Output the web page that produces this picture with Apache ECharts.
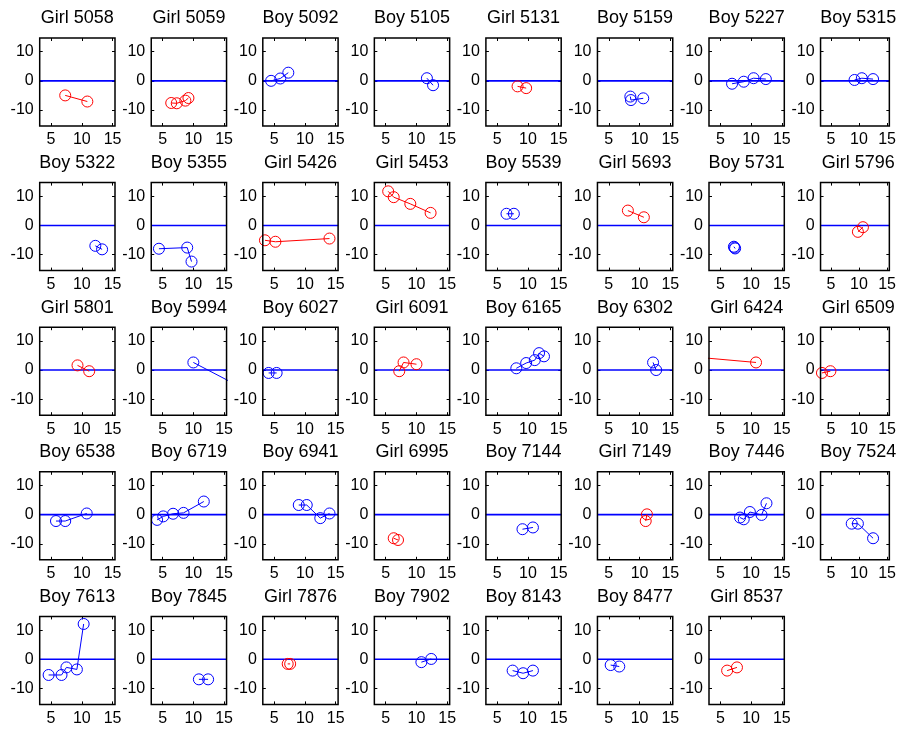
<!DOCTYPE html>
<html>
<head>
<meta charset="utf-8">
<script src="https://cdn.jsdelivr.net/npm/echarts@6/dist/echarts.min.js"></script>
<style>html,body{margin:0;padding:0;background:#fff}#c{width:899px;height:729px}</style>
</head>
<body>
<div id="c"></div>
<script>
// ---- data ----
const panelTitles = [
  'Girl 5058','Girl 5059','Boy 5092','Boy 5105','Girl 5131','Boy 5159','Boy 5227','Boy 5315',
  'Boy 5322','Boy 5355','Girl 5426','Girl 5453','Boy 5539','Girl 5693','Boy 5731','Girl 5796',
  'Girl 5801','Boy 5994','Boy 6027','Girl 6091','Boy 6165','Boy 6302','Girl 6424','Girl 6509',
  'Boy 6538','Boy 6719','Boy 6941','Girl 6995','Boy 7144','Girl 7149','Boy 7446','Boy 7524',
  'Boy 7613','Boy 7845','Girl 7876','Boy 7902','Boy 8143','Boy 8477','Girl 8537'
];
const ages = [
  [7.3,10.9],[6.4,7.3,8.7,9.2],[4.5,6.0,7.3],[11.7,12.7],[8.3,9.7],[8.5,8.6,10.6],[6.9,8.8,10.4,12.4],[9.2,10.5,12.5],
  [12.2,13.3],[4.4,9.0,9.7],[3.5,5.2,14.0],[5.4,6.3,9.0,12.3],[6.5,7.7],[8.1,10.7],[7.2,7.4,7.3],[9.8,10.7],
  [9.3,11.2],[10.0,17.0],[4.1,5.4],[7.2,7.9,10.0],[8.1,9.7,11.1,11.8,12.6],[12.2,12.7],[2.0,10.8],[3.4,4.9],
  [5.8,7.3,10.8],[4.1,5.1,6.7,8.4,11.7],[9.0,10.3,12.5,14.0],[6.3,7.0],[9.1,10.8],[11.2,11.0],[8.2,8.8,9.8,11.7,12.5],[8.7,9.8,12.5],
  [4.6,6.7,7.5,9.2,10.3],[10.9,12.4],[7.2,7.6],[10.8,12.4],[7.5,9.2,10.8],[5.3,6.7],[6.1,7.7]
];
const values = [
  [-5.0,-7.1],[-7.6,-7.7,-6.8,-5.9],[0.0,0.8,2.8],[0.9,-1.5],[-1.9,-2.5],[-5.4,-6.6,-6.0],[-1.0,-0.3,0.9,0.6],[0.3,0.9,0.6],
  [-7.0,-8.2],[-8.0,-7.6,-12.4],[-5.1,-5.6,-4.5],[11.7,9.7,7.4,4.3],[4.0,4.0],[5.1,2.8],[-7.3,-7.9,-7.6],[-2.2,-0.6],
  [1.6,-0.4],[2.6,-5.1],[-1.0,-1.0],[-0.4,2.6,2.0],[0.6,2.4,3.4,5.8,4.7],[2.6,0.0],[4.25,2.6],[-1.0,-0.4],
  [-2.2,-2.2,0.4],[-1.8,-0.6,0.3,0.6,4.5],[3.3,3.3,-1.2,0.4],[-8.1,-8.7],[-5.0,-4.4],[0.1,-2.2],[-1.0,-1.6,0.9,-0.1,3.9],[-3.1,-3.1,-8.1],
  [-5.4,-5.4,-2.8,-3.5,12.1],[-6.9,-6.9],[-1.6,-1.6],[-1.0,0.1],[-3.9,-4.8,-3.9],[-2.0,-2.5],[-3.9,-2.8]
];
const xTicks = [5, 10, 15];
const yTicks = [-10, 0, 10];
const xRange = [3.15, 15.4];
const yRange = [-15.5, 14.7];
const referenceLevel = 0;

// ---- layout / style ----
const FONT = 'Liberation Sans, Arial, Helvetica, sans-serif';
const colW = 111.55, rowH = 144.6, left0 = 39.7, top0 = 38, gw = 75.3, gh = 88;
const sexColor = t => t.startsWith('Girl') ? '#ff0000' : '#0000ff';

const grids = [], xAxes = [], yAxes = [], series = [], titles = [];
panelTitles.forEach((name, i) => {
  const r = Math.floor(i / 8), c = i % 8;
  const L = left0 + c * colW, T = top0 + r * rowH;
  grids.push({ left: L, top: T, width: gw, height: gh, containLabel: false,
               show: true, borderColor: '#000', borderWidth: 1.5, backgroundColor: 'rgba(0,0,0,0)', z: 5 });
  titles.push({
    text: name, left: L + gw / 2, top: T - 19.5, textAlign: 'center', textVerticalAlign: 'middle', padding: 0,
    textStyle: { fontFamily: FONT, fontSize: 18, fontWeight: 'normal', color: '#000' }
  });
  const tick = (vals) => ({ show: true, inside: true, length: 3, customValues: vals, lineStyle: { color: '#000', width: 1 } });
  xAxes.push({
    type: 'value', gridIndex: i, position: 'bottom', min: xRange[0], max: xRange[1],
    axisLine: { show: false, onZero: false }, axisTick: tick(xTicks), splitLine: { show: false },
    axisLabel: { show: true, customValues: xTicks, margin: 6, fontFamily: FONT, fontSize: 16, color: '#000' }
  });
  xAxes.push({
    type: 'value', gridIndex: i, position: 'top', min: xRange[0], max: xRange[1],
    axisLine: { show: false, onZero: false }, axisTick: tick(xTicks), splitLine: { show: false }, axisLabel: { show: false }
  });
  yAxes.push({
    type: 'value', gridIndex: i, position: 'left', min: yRange[0], max: yRange[1],
    axisLine: { show: false, onZero: false }, axisTick: tick(yTicks), splitLine: { show: false },
    axisLabel: { show: true, customValues: yTicks, margin: 6, fontFamily: FONT, fontSize: 16, color: '#000' }
  });
  yAxes.push({
    type: 'value', gridIndex: i, position: 'right', min: yRange[0], max: yRange[1],
    axisLine: { show: false, onZero: false }, axisTick: tick(yTicks), splitLine: { show: false }, axisLabel: { show: false }
  });
  const col = sexColor(name);
  series.push({
    type: 'line', xAxisIndex: 2 * i, yAxisIndex: 2 * i, clip: true, showAllSymbol: true,
    symbol: 'circle', symbolSize: 11, color: col,
    itemStyle: { color: 'rgba(0,0,0,0)', borderColor: col, borderWidth: 1 },
    lineStyle: { color: col, width: 1 },
    data: ages[i].map((a, j) => [a, values[i][j]]),
    z: 3
  });
  // horizontal reference line at y = referenceLevel across the axis range
  series.push({
    type: 'line', xAxisIndex: 2 * i, yAxisIndex: 2 * i, clip: true, silent: true,
    symbol: 'none', color: '#0000ff',
    lineStyle: { color: '#0000ff', width: 1.6 },
    data: [[xRange[0], referenceLevel], [xRange[1], referenceLevel]],
    z: 2
  });
});

const chart = echarts.init(document.getElementById('c'), null, { renderer: 'canvas' });
chart.setOption({
  animation: false,
  backgroundColor: '#fff',
  title: titles,
  grid: grids,
  xAxis: xAxes,
  yAxis: yAxes,
  series: series
});
</script>
</body>
</html>
